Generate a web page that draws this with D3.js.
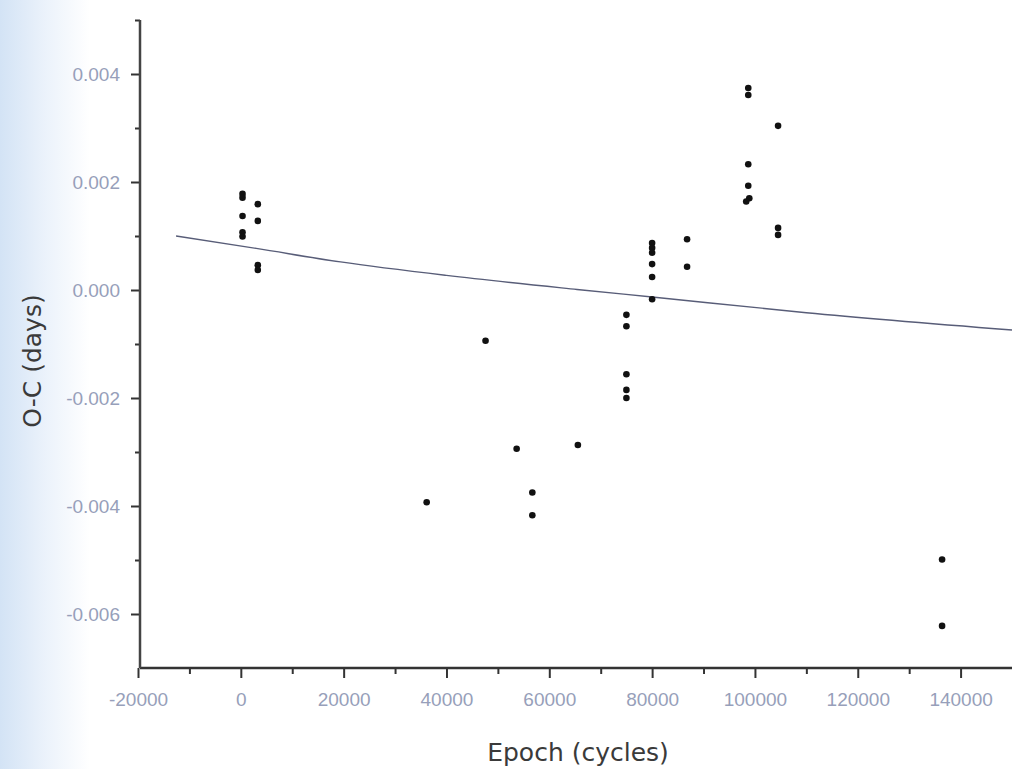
<!DOCTYPE html>
<html>
<head>
<meta charset="utf-8">
<script src="https://cdnjs.cloudflare.com/ajax/libs/d3/7.8.5/d3.min.js"></script>
<style>
	body { margin: 0; background: #fff; }
	svg { display: block; }
</style>
</head>
<body>
<div id="chart"></div>
<script>
// observed minima, epoch in cycles
var epochs = [
	330, 330, 330, 330, 330,
	3300, 3300, 3300, 3300,
	36150, 47600, 53650, 56700, 56700, 65560,
	75000, 75000, 75000, 75000, 75000,
	80000, 80000, 80000, 80000, 80000, 80000,
	86800, 86800,
	98700, 98700, 98700, 98700, 98900, 98300,
	104500, 104500, 104500,
	136400, 136400
];
// O-C residuals in days
var oc_values = [
	0.00178, 0.00171, 0.00137, 0.00107, 0.00099,
	0.00159, 0.00128, 0.00046, 0.00037,
	-0.00393, -0.00094, -0.00294, -0.00375, -0.00417, -0.00287,
	-0.00046, -0.00067, -0.00156, -0.00185, -0.00200,
	0.00087, 0.00078, 0.00069, 0.00048, 0.00024, -0.00017,
	0.00094, 0.00043,
	0.00374, 0.00361, 0.00233, 0.00193, 0.00170, 0.00164,
	0.00304, 0.00115, 0.00102,
	-0.00499, -0.00622
];

// fitted curve
var fit_epochs = [-12600, 3000, 19400, 40000, 65400, 80000, 110000, 150000];
var fit_values = [0.00100, 0.00077, 0.00052, 0.00027, 0.00001, -0.00013, -0.00042, -0.00074];

var x_ticks = [-20000, 0, 20000, 40000, 60000, 80000, 100000, 120000, 140000];
var y_ticks = [0.004, 0.002, 0.000, -0.002, -0.004, -0.006];

var width = 1017,
	height = 769;

var svg = d3.select('#chart')
	.append('svg')
	.attr('width', width)
	.attr('height', height);

// scanned page: bluish shade along the left edge
var grad = svg.append('defs')
	.append('linearGradient')
	.attr('id', 'edgeShade')
	.attr('x1', '0').attr('x2', '1').attr('y1', '0').attr('y2', '0');
grad.append('stop').attr('offset', '0').attr('stop-color', '#d3e3f5');
grad.append('stop').attr('offset', '0.5').attr('stop-color', '#ebf2fb');
grad.append('stop').attr('offset', '1').attr('stop-color', '#ffffff');

svg.append('rect')
	.attr('width', width)
	.attr('height', height)
	.attr('fill', '#fff');
svg.append('rect')
	.attr('width', 90)
	.attr('height', height)
	.attr('fill', 'url(#edgeShade)');

var x = d3.scaleLinear()
	.domain([-20000, 150000])
	.range([138, 1012]);

var y = d3.scaleLinear()
	.domain([-0.007, 0.005])
	.range([668, 20]);

// plain hyphen, as in the original
var fmt_x = function(d) { return d3.format('d')(d).replace('\u2212', '-'); };
var fmt_y = function(d) { return d3.format('.3f')(d).replace('\u2212', '-'); };

// minor ticks
svg.append('g')
	.attr('transform', 'translate(0,668)')
	.call(d3.axisBottom(x).tickValues(d3.range(-10000, 150000, 20000)).tickSize(6).tickFormat(''))
	.call(function(g) { g.select('.domain').remove(); })
	.selectAll('line').attr('stroke', '#333').attr('stroke-width', 2);

svg.append('g')
	.attr('transform', 'translate(140,0)')
	.call(d3.axisLeft(y).tickValues([0.005, 0.003, 0.001, -0.001, -0.003, -0.005]).tickSize(5).tickFormat(''))
	.call(function(g) { g.select('.domain').remove(); })
	.selectAll('line').attr('stroke', '#333').attr('stroke-width', 2);

// major ticks + labels
var x_axis = svg.append('g')
	.attr('transform', 'translate(0,668)')
	.call(d3.axisBottom(x).tickValues(x_ticks).tickSize(10).tickPadding(15).tickFormat(fmt_x));

var y_axis = svg.append('g')
	.attr('transform', 'translate(140,0)')
	.call(d3.axisLeft(y).tickValues(y_ticks).tickSize(9).tickPadding(11).tickFormat(fmt_y));

[x_axis, y_axis].forEach(function(g) {
	g.select('.domain').remove();
	g.selectAll('line').attr('stroke', '#333').attr('stroke-width', 2);
	g.selectAll('text')
		.attr('fill', '#979fba')
		.style('font-family', '"Liberation Sans", Arial, sans-serif')
		.style('font-size', '19px');
});

// axis lines
svg.append('line')
	.attr('x1', x(-20000) + 2).attr('x2', x(150000))
	.attr('y1', y(-0.007)).attr('y2', y(-0.007))
	.attr('stroke', '#333').attr('stroke-width', 2.5);
svg.append('line')
	.attr('x1', 140).attr('x2', 140)
	.attr('y1', y(0.005)).attr('y2', y(-0.007))
	.attr('stroke', '#444').attr('stroke-width', 2.5);

// fit
var fit_line = d3.line()
	.x(function(d, i) { return x(fit_epochs[i]); })
	.y(function(d) { return y(d); })
	.curve(d3.curveMonotoneX);

svg.append('path')
	.attr('d', fit_line(fit_values))
	.attr('fill', 'none')
	.attr('stroke', '#585d78')
	.attr('stroke-width', 1.4);

// points
for (var i = 0; i < epochs.length; i++) {
	svg.append('circle')
		.attr('cx', x(epochs[i]))
		.attr('cy', y(oc_values[i]))
		.attr('r', 3.3)
		.attr('fill', '#111');
}

// titles
svg.append('text')
	.attr('x', 578)
	.attr('y', 761)
	.attr('text-anchor', 'middle')
	.attr('fill', '#3a3a3a')
	.style('font-family', '"DejaVu Sans", Verdana, sans-serif')
	.style('font-size', '25px')
	.text('Epoch (cycles)');

svg.append('text')
	.attr('transform', 'translate(41,361) rotate(-90)')
	.attr('text-anchor', 'middle')
	.attr('fill', '#3a3a3a')
	.style('font-family', '"DejaVu Sans", Verdana, sans-serif')
	.style('font-size', '25px')
	.text('O-C (days)');
</script>
</body>
</html>
